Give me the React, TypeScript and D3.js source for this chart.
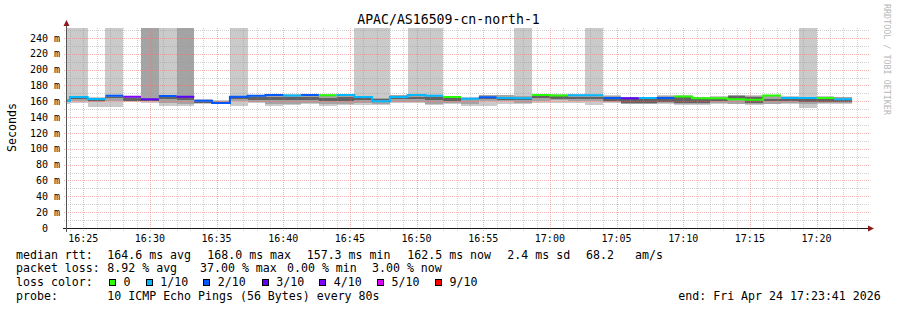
import React from 'react';
import * as d3 from 'd3';

// ---------------- data ----------------
const chartTitle = 'APAC/AS16509-cn-north-1';
const yAxisTitle = 'Seconds';
const watermark = 'RRDTOOL / TOBI OETIKER';
const firstStepUtc = Date.UTC(2026, 3, 24, 16, 22, 40);
const stepSec = 80;
const viewStartUtc = Date.UTC(2026, 3, 24, 16, 23, 47);
const viewEndUtc = Date.UTC(2026, 3, 24, 17, 23, 47);
const yMax = 252.6;
const TOP = 999; // ping beyond graph top

// median rtt per 80 s step (ms)
const median = [
  160.8, 165.5, 163.0, 167.1, 165.8, 162.5, 166.7, 165.8, 160.8, 157.9,
  165.8, 167.0, 168.0, 167.5, 168.0, 167.6, 168.0, 165.5, 160.0, 165.5,
  168.0, 167.0, 165.5, 163.4, 165.0, 164.2, 164.0, 168.0, 167.5, 167.8,
  167.6, 164.2, 164.0, 164.2, 164.2, 166.0, 164.0, 164.0, 162.6, 162.0,
  167.5, 164.2, 164.2, 164.2, 162.5,
];
// index into lossLabels / lossColors
const lossBucket = [
  1, 1, 1, 2, 4, 3, 2, 3, 2, 2,
  2, 2, 2, 1, 2, 0, 1, 1, 1, 1,
  1, 1, 0, 1, 2, 1, 1, 0, 0, 1,
  1, 2, 3, 1, 2, 0, 0, 0, 0, 0,
  0, 1, 1, 0, 1,
];
// smoke: outer (min..max ping), middle and core bands (ms)
const smokeLo = [
  157.0, 158.5, 153.3, 153.3, 159.0, 157.5, 154.0, 154.0, 157.0, 156.5,
  154.0, 158.4, 154.0, 155.0, 156.0, 153.7, 155.0, 155.0, 155.0, 157.5,
  157.5, 155.8, 157.0, 153.7, 154.5, 156.6, 156.6, 157.5, 158.0, 157.5,
  155.0, 158.0, 156.0, 156.0, 157.0, 155.8, 155.8, 157.0, 156.0, 155.0,
  156.0, 157.0, 151.6, 156.0, 156.0,
];
const smokeHi = [
  TOP, TOP, 165.0, TOP, 167.0, TOP, TOP, TOP, 163.0, 161.7,
  TOP, 168.0, 169.0, 169.0, 169.0, 169.0, 169.0, TOP, TOP, 168.0,
  TOP, TOP, 167.0, 165.0, 168.4, 168.4, TOP, 169.0, 169.0, 169.0,
  TOP, 168.4, 166.0, 166.0, 168.4, 167.5, 166.0, 166.5, 168.4, 168.4,
  168.5, 167.0, TOP, 166.5, 166.0,
];
const midLo = [
  159.0, 161.0, 158.8, 160.0, 160.0, 160.0, 158.0, 156.0, 158.0, 157.0,
  160.0, 159.5, 156.0, 156.6, 157.5, 157.0, 156.0, 157.5, 156.5, 159.0,
  159.0, 157.0, 158.0, 156.0, 160.0, 160.0, 158.0, 161.0, 162.0, 160.0,
  160.0, 159.0, 157.0, 157.0, 158.0, 156.5, 156.5, 158.0, 157.0, 156.0,
  157.0, 158.0, 157.0, 157.5, 157.5,
];
const midHi = [
  163.0, 165.0, 164.0, 166.5, 165.8, TOP, 168.0, TOP, 162.0, 160.5,
  166.0, 167.0, 167.5, 167.0, 167.5, 167.0, 167.5, 166.0, 164.0, 167.6,
  167.0, 166.5, 165.0, 164.0, 168.0, 167.5, 167.0, 167.5, 167.0, 167.0,
  167.0, 167.0, 165.0, 165.0, 167.0, 166.5, 165.5, 165.5, 167.5, 167.0,
  166.5, 166.0, 165.5, 165.5, 165.0,
];
const coreLo = [
  160.0, 163.0, 161.0, 164.0, 160.5, 161.0, 163.0, 162.0, 158.5, 157.5,
  163.0, 161.7, 162.0, 162.0, 162.0, 160.0, 161.0, 162.0, 161.5, 163.0,
  163.0, 162.0, 160.0, 163.5, 162.5, 162.0, 161.5, 164.5, 163.5, 163.0,
  163.0, 160.0, 158.0, 158.5, 159.0, 158.0, 158.0, 160.0, 163.5, 158.0,
  160.0, 160.0, 159.0, 159.0, 159.5,
];
const coreHi = [
  161.5, 164.5, 163.0, 166.0, 164.0, 163.0, 166.0, 165.0, 159.5, 158.5,
  165.0, 165.8, 166.0, 165.0, 166.0, 164.0, 165.0, 164.5, 163.0, 165.0,
  166.0, 165.0, 164.0, 164.5, 164.5, 164.0, 164.0, 167.0, 166.5, 166.0,
  166.0, 163.5, 163.5, 163.5, 163.5, 165.0, 163.5, 163.0, 167.0, 166.0,
  163.5, 163.5, 163.5, 163.0, 162.0,
];

const lossLabels = ['0', '1/10', '2/10', '3/10', '4/10', '5/10', '9/10'];
const lossColors = ['#26ff00', '#00b8ff', '#0059ff', '#5e00ff', '#7e00ff', '#dd00ff', '#ff0000'];

const yTickValues = [0, 20, 40, 60, 80, 100, 120, 140, 160, 180, 200, 220, 240];

const statRow1 = ['median rtt:', '164.6 ms avg', '168.0 ms max', '157.3 ms min', '162.5 ms now', '2.4 ms sd', '68.2', 'am/s'];
const statRow2 = ['packet loss:', '8.92 % avg', '37.00 % max', '0.00 % min', '3.00 % now'];
const lossColorLabel = 'loss color:';
const probeLabel = 'probe:';
const probeText = '10 ICMP Echo Pings (56 Bytes) every 80s';
const endText = 'end: Fri Apr 24 17:23:41 2026';

// ---------------- layout ----------------
const W = 897;
const H = 310;
const plot = { left: 67, right: 867, top: 28, bottom: 228 };
const row1X = [16, 107.3, 207.3, 306.7, 407.3, 507.3, 586, 635];
const row2X = [16, 107.3, 200, 287, 372];
const legendBoxX = [109, 145.7, 203.3, 261.7, 319.3, 377, 435];
const rowBase = [258.5, 272, 286, 299.5];
const MONO = "'DejaVu Sans Mono', 'Liberation Mono', monospace";

export default function App() {
  const x = d3
    .scaleUtc()
    .domain([new Date(viewStartUtc), new Date(viewEndUtc)])
    .range([plot.left, plot.right]);
  const y = d3.scaleLinear().domain([0, yMax]).range([plot.bottom, plot.top]);
  const yv = (v: number) => (v >= TOP ? plot.top - 1 : y(v));

  const segs = median.map((m, i) => ({
    x0: x(new Date(firstStepUtc + i * stepSec * 1000)),
    x1: x(new Date(firstStepUtc + (i + 1) * stepSec * 1000)),
    m,
    loss: lossBucket[i],
    lo: smokeLo[i],
    hi: smokeHi[i],
    mlo: midLo[i],
    mhi: midHi[i],
    clo: coreLo[i],
    chi: coreHi[i],
  }));

  const minorX = x.ticks(d3.utcMinute.every(1) as any);
  const majorX = x.ticks(d3.utcMinute.every(5) as any);
  const fmt = d3.utcFormat('%H:%M');
  const minorY = d3.range(10, yMax, 20);

  const line = d3
    .line<[number, number] | null>()
    .defined((d) => d !== null)
    .x((d) => (d as [number, number])[0])
    .y((d) => (d as [number, number])[1]);

  const medianPaths = lossColors.map((c, b) => {
    const pts: ([number, number] | null)[] = [];
    segs.forEach((s) => {
      if (s.loss === b) {
        pts.push([s.x0, y(s.m)], [s.x1, y(s.m)]);
      } else if (pts.length && pts[pts.length - 1] !== null) {
        pts.push(null);
      }
    });
    return { c, d: pts.length ? line(pts) : null };
  });

  const band = (lo: number, hi: number) => ({ yTop: yv(hi), h: Math.max(0, y(lo) - yv(hi)) });

  return (
    <svg
      width={W}
      height={H}
      viewBox={`0 0 ${W} ${H}`}
      style={{ position: 'absolute', left: 0, top: 0, background: '#fff' }}
      fontFamily={MONO}
    >
      <rect x={0} y={0} width={W} height={H} fill="#ffffff" />
      <defs>
        <clipPath id="plotClip">
          <rect x={plot.left} y={plot.top} width={plot.right - plot.left} height={plot.bottom - plot.top} />
        </clipPath>
      </defs>

      {/* title */}
      <text x={448.5} y={24} textAnchor="middle" fontSize={13.2} fill="#000">
        {chartTitle}
      </text>

      {/* smoke */}
      <g clipPath="url(#plotClip)" shapeRendering="crispEdges">
        {segs.map((s, i) => {
          const o = band(s.lo, s.hi);
          const md = band(s.mlo, s.mhi);
          const cr = band(s.clo, s.chi);
          return (
            <g key={i}>
              <rect x={s.x0} y={o.yTop} width={s.x1 - s.x0} height={o.h} fill="#cacaca" />
              <rect x={s.x0} y={md.yTop} width={s.x1 - s.x0} height={md.h} fill="#a4a4a4" />
              <rect x={s.x0} y={cr.yTop} width={s.x1 - s.x0} height={cr.h} fill="#626262" />
            </g>
          );
        })}
      </g>

      {/* grid */}
      <g strokeDasharray="1,1" strokeWidth={1} shapeRendering="crispEdges">
        {minorY.map((v) => (
          <line key={'my' + v} x1={plot.left - 3} x2={plot.right + 2} y1={Math.round(y(v)) + 0.5} y2={Math.round(y(v)) + 0.5} stroke="rgba(150,150,150,0.45)" />
        ))}
        {yTickValues.slice(1).map((v) => (
          <line key={'My' + v} x1={plot.left - 3} x2={plot.right + 2} y1={Math.round(y(v)) + 0.5} y2={Math.round(y(v)) + 0.5} stroke="rgba(235,110,110,0.5)" />
        ))}
        {minorX
          .filter((t) => t.getUTCMinutes() % 5 !== 0)
          .map((t) => (
            <line key={'mx' + +t} x1={Math.round(x(t)) + 0.5} x2={Math.round(x(t)) + 0.5} y1={plot.top} y2={plot.bottom + 3} stroke="rgba(150,150,150,0.45)" />
          ))}
        {majorX.map((t) => (
          <line key={'Mx' + +t} x1={Math.round(x(t)) + 0.5} x2={Math.round(x(t)) + 0.5} y1={plot.top} y2={plot.bottom + 3} stroke="rgba(235,110,110,0.55)" />
        ))}
      </g>

      {/* median lines */}
      <g clipPath="url(#plotClip)">
        {medianPaths.map((p, i) =>
          p.d ? <path key={i} d={p.d} fill="none" stroke={p.c} strokeWidth={2} /> : null
        )}
      </g>

      {/* axes */}
      <g shapeRendering="crispEdges">
        <line x1={plot.left - 4} x2={plot.right + 1} y1={plot.bottom + 0.5} y2={plot.bottom + 0.5} stroke="#1a1a1a" />
        <line x1={plot.left - 0.5} x2={plot.left - 0.5} y1={plot.bottom + 4} y2={plot.top - 4} stroke="#555" />
      </g>
      <polygon points={`${plot.left - 3.5},${plot.top - 2} ${plot.left + 2.5},${plot.top - 2} ${plot.left - 0.5},${plot.top - 8}`} fill="#8c1a1a" />
      <polygon points={`${plot.right + 1},${plot.bottom - 2.5} ${plot.right + 1},${plot.bottom + 3.5} ${plot.right + 7},${plot.bottom + 0.5}`} fill="#8c1a1a" />

      {/* y tick labels */}
      <g fontSize={10} fill="#000">
        {yTickValues.map((v) => (
          <text key={v} x={v === 0 ? 48 : 60} y={y(v) + 3.6} textAnchor="end">
            {v === 0 ? '0' : `${v} m`}
          </text>
        ))}
      </g>
      {/* x tick labels */}
      <g fontSize={10} fill="#000">
        {majorX.map((t) => (
          <text key={+t} x={x(t)} y={241.5} textAnchor="middle">
            {fmt(t)}
          </text>
        ))}
      </g>

      {/* axis title */}
      <text transform="translate(15.5,127.5) rotate(-90)" textAnchor="middle" fontSize={11.6} fill="#000">
        {yAxisTitle}
      </text>

      {/* watermark */}
      <text transform="translate(884,4) rotate(90)" fontSize={8.4} fill="#b8b8b8">
        {watermark}
      </text>

      {/* legend */}
      <g fontSize={11.6} fill="#000" style={{ whiteSpace: 'pre' }}>
        {statRow1.map((t, i) => (
          <text key={'r1' + i} x={row1X[i]} y={rowBase[0]}>
            {t}
          </text>
        ))}
        {statRow2.map((t, i) => (
          <text key={'r2' + i} x={row2X[i]} y={rowBase[1]}>
            {t}
          </text>
        ))}
        <text x={16} y={rowBase[2]}>
          {lossColorLabel}
        </text>
        {lossLabels.map((l, i) => (
          <g key={'lg' + i}>
            <rect x={legendBoxX[i] + 0.5} y={279.5} width={6} height={6} fill={lossColors[i]} stroke="#000" strokeWidth={1} shapeRendering="crispEdges" />
            <text x={legendBoxX[i] + 14.5} y={rowBase[2]}>
              {l}
            </text>
          </g>
        ))}
        <text x={16} y={rowBase[3]}>
          {probeLabel}
        </text>
        <text x={107.3} y={rowBase[3]}>
          {probeText}
        </text>
        <text x={678.3} y={rowBase[3]}>
          {endText}
        </text>
      </g>
    </svg>
  );
}
